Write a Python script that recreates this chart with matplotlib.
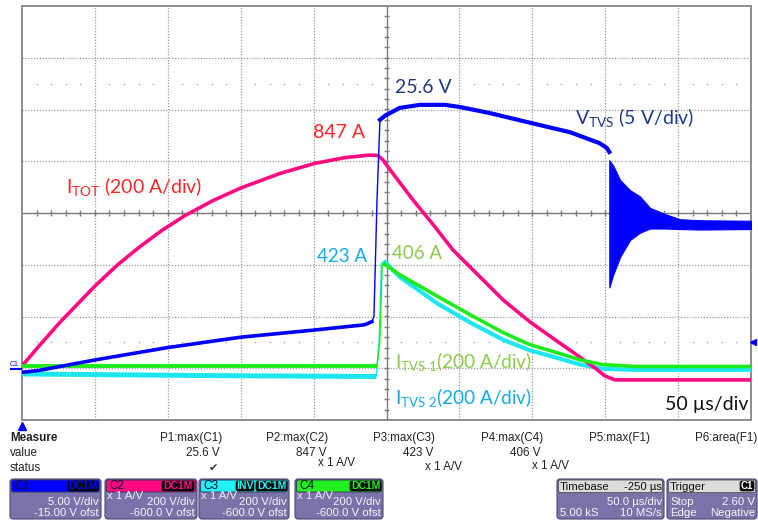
"""
Scope capture: TVS clamp test, V_TVS / I_TOT / I_TVS1 / I_TVS2 at 50 us/div.
Writes out.png (758 x 521).
"""

import matplotlib.pyplot as plt
from matplotlib.patches import FancyBboxPatch
import numpy as np

plt.rcParams["font.family"] = ["Lato", "DejaVu Sans"]
plt.rcParams["mathtext.fontset"] = "custom"
plt.rcParams["mathtext.rm"] = "Lato"
plt.rcParams["mathtext.it"] = "Lato:italic"
plt.rcParams["mathtext.bf"] = "Lato:bold"

# ---- channel settings (scale per div, offset) ----
C1_SCALE, C1_OFST = 5.0, -15.0      # V/div, V
I_SCALE, I_OFST = 200.0, -600.0     # A/div, A
US_PER_DIV = 50.0

# ---- C1: V_TVS (V) ----
vtvs_t = [0, 12, 50, 100, 150, 201, 235, 240, 241.4, 243.5, 245.5, 249, 259, 273,
          290, 300, 321, 352, 376, 396, 401, 402.8]
vtvs_v = [-0.4, -0.2, 0.8, 2.0, 3.0, 3.7, 4.2, 4.5, 5.0, 16.3, 24.0, 24.4, 25.15, 25.45,
          25.45, 25.25, 24.65, 23.6, 22.8, 21.75, 21.3, 20.9]
# ringing envelope after turn-off
ring_t = [402.8, 405.4, 410.2, 417.1, 423.9, 430.7, 441, 451.3, 465, 500]
ring_hi = [20.1, 19.6, 18.2, 17.2, 16.6, 15.5, 14.9, 14.4, 14.3, 14.25]
ring_lo = [7.8, 9.0, 10.75, 12.4, 13.1, 13.5, 13.5, 13.45, 13.4, 13.45]

# ---- C2: I_TOT (A) ----
itot_t = [0, 12.3, 26.1, 50.1, 65.2, 80.9, 96, 111.8, 131.0, 150.2, 177, 201, 221.5,
          238.7, 244.2, 247.6, 251, 268.2, 283.3, 295.6, 330, 348.4, 366.9, 382.7,
          393, 399.9, 406.7, 500]
itot_a = [9, 90, 178, 318, 398, 470, 533, 590, 648, 697, 753, 792, 814,
          824, 822, 805, 778, 650, 546, 457, 264, 179, 105, 43,
          1, -30, -45, -45]

# ---- C3: I_TVS2 (A, inverted) ----
itvs2_t = [0, 120, 243, 245, 246.5, 249, 259, 285, 307, 330, 348, 367, 383, 398.5, 420, 500]
itvs2_a = [-22, -28, -32, 110, 405, 410, 353, 250, 178, 110, 70, 40, 14, -2, -6, -6]

# ---- C4: I_TVS1 (A) ----
itvs1_t = [0, 243.5, 245.5, 247, 248.5, 259, 285, 307, 330, 348, 367, 383, 398.5, 420, 500]
itvs1_a = [10, 10, 110, 395, 403, 362, 278, 208, 138, 92, 60, 32, 14, 7, 7]

BLUE = "#0000FF"
PINK = "#FF0A80"
CYAN = "#1EE6F0"
GREEN = "#1EEB1E"


def tdiv(t):
    return np.asarray(t, float) / US_PER_DIV


def vdiv(v):
    return (np.asarray(v, float) + C1_OFST) / C1_SCALE


def idiv(a):
    return (np.asarray(a, float) + I_OFST) / I_SCALE


W, H = 758, 521
fig = plt.figure(figsize=(W / 100, H / 100), dpi=100)
fig.patch.set_facecolor("white")

# ---------------- graticule ----------------
ax = fig.add_axes([22 / W, 1 - 420 / H, 729 / W, 414 / H])
ax.set_xlim(0, 10)
ax.set_ylim(-4, 4)
ax.set_xticks([])
ax.set_yticks([])
for s in ax.spines.values():
    s.set_color("#8c8c8c")
    s.set_linewidth(1.4)

grid_kw = dict(color="#9a9a9a", lw=0.9, ls=(0, (1, 1.3)), zorder=1)
for gx in range(1, 10):
    if gx != 5:
        ax.axvline(gx, **grid_kw)
for gy in range(-3, 4):
    if gy != 0:
        ax.axhline(gy, **grid_kw)
ax.axvline(5, color="#7a7a7a", lw=1.0, zorder=1)
ax.axhline(0, color="#7a7a7a", lw=1.0, zorder=1)
minor_x = np.arange(0.2, 10, 0.2)
minor_y = np.arange(-3.8, 4, 0.2)
ax.vlines(minor_x, -0.05, 0.05, color="#7a7a7a", lw=1.0, zorder=1)
ax.hlines(minor_y, 4.965, 5.035, color="#7a7a7a", lw=1.0, zorder=1)
dots = [m for m in minor_x if abs(m - round(m)) > 0.05]
for ry in (2.5, -2.5):
    ax.plot(dots, [ry] * len(dots), ls="none", marker="s", ms=1.0, mew=0,
            color="#a8a8a8", zorder=1)

# ---------------- traces ----------------
tv, vv = tdiv(vtvs_t), vdiv(vtvs_v)
ti, vi = tdiv(itot_t), idiv(itot_a)
t2, v2 = tdiv(itvs2_t), idiv(itvs2_a)
t1, v1 = tdiv(itvs1_t), idiv(itvs1_a)

# C3 cyan
ax.plot(t2, v2, color=CYAN, lw=1.0, zorder=3)
ax.plot(t2[:3], v2[:3], color=CYAN, lw=3.6, zorder=3, solid_capstyle="butt")
ax.plot(t2[5:], v2[5:], color=CYAN, lw=3.0, zorder=3)
# C2 pink
ax.plot(ti, vi, color=PINK, lw=2.6, zorder=4, solid_joinstyle="round")
# C4 green
ax.plot(t1, v1, color=GREEN, lw=1.0, zorder=5)
ax.plot(t1[:2], v1[:2], color=GREEN, lw=2.8, zorder=5, solid_capstyle="butt")
ax.plot(t1[4:], v1[4:], color=GREEN, lw=2.6, zorder=5)
# C1 blue
ax.plot(tv, vv, color=BLUE, lw=1.0, zorder=6)
ax.plot(tv[:8], vv[:8], color=BLUE, lw=2.6, zorder=6)
ax.plot(tv[10:], vv[10:], color=BLUE, lw=3.0, zorder=6)
ax.fill_between(tdiv(ring_t), vdiv(ring_lo), vdiv(ring_hi), color=BLUE, lw=0.8, zorder=6)

# ---------------- annotations ----------------
RED_TXT = "#FF2626"
NAVY_TXT = "#1F3B82"
CYAN_TXT = "#14AAE8"
GREEN_TXT = "#8CCB4A"
ax.text(3.99, 1.55, "847 A", color=RED_TXT, fontsize=14, va="center", zorder=8)
ax.text(0.60, 0.52, r"I$_{\mathrm{TOT}}$ (200 A/div)", color=RED_TXT, fontsize=14, va="center", zorder=8)
ax.text(5.12, 2.43, "25.6 V", color=NAVY_TXT, fontsize=14, va="center", zorder=8)
ax.text(7.59, 1.84, r"V$_{\mathrm{TVS}}$ (5 V/div)", color=NAVY_TXT, fontsize=14, va="center", zorder=8)
ax.text(4.05, -0.85, "423 A", color=CYAN_TXT, fontsize=13.5, va="center", zorder=8)
ax.text(5.08, -0.79, "406 A", color=GREEN_TXT, fontsize=13.5, va="center", zorder=8)
ax.text(5.12, -2.86, r"I$_{\mathrm{TVS\ 1}}$(200 A/div)", color=GREEN_TXT, fontsize=13.7, va="center", zorder=8)
ax.text(5.12, -3.56, r"I$_{\mathrm{TVS\ 2}}$(200 A/div)", color=CYAN_TXT, fontsize=13.7, va="center", zorder=8)
ax.text(9.97, -3.71, "50 µs/div", color="#111111", fontsize=14, va="center", ha="right", zorder=8)

# ---------------- readout panel (pixel coords) ----------------
pn = fig.add_axes([0, 0, 1, 1], zorder=10)
pn.set_xlim(0, W)
pn.set_ylim(H, 0)
pn.axis("off")

# markers at graticule edge
pn.plot([22], [426], marker="^", ms=6, color=BLUE, clip_on=False)
pn.plot([753], [342], marker="<", ms=4, color=BLUE, clip_on=False)
pn.plot([11, 21], [369, 369], color=BLUE, lw=1.5)
pn.text(10, 364, "C1", fontsize=5, color=BLUE, family="Liberation Sans", va="center")

SANS = "Liberation Sans"
TXT = "#222222"
f8 = dict(fontsize=8.4, family=SANS, color=TXT, va="center")
pn.text(10, 438, "Measure", fontweight="bold", **f8)
pn.text(10, 453, "value", **f8)
pn.text(10, 468, "status", **f8)
meas_names = ["P1:max(C1)", "P2:max(C2)", "P3:max(C3)", "P4:max(C4)", "P5:max(F1)", "P6:area(F1)"]
meas_right = [222, 328, 435, 543, 650, 757]
meas_vals = ["25.6 V", "847 V", "423 V", "406 V", "", ""]
for name, xr, val in zip(meas_names, meas_right, meas_vals):
    pn.text(xr, 438, name, ha="right", **f8)
    pn.text(xr - 2, 453, val, ha="right", **f8)
pn.text(213, 468, "✔", fontsize=8, family="DejaVu Sans", color="#333333", ha="center", va="center")
for xl, yy in [(318, 463), (425, 467), (532, 466)]:
    pn.text(xl, yy, "x 1 A/V", ha="left", **f8)

BODY = "#7A73A9"
EDGE = "#4c4870"
WHITE_TXT = "#F4F4F4"


def rbox(x0, y0, w, h, fc, ec=EDGE, r=3, lw=0.8):
    pn.add_patch(FancyBboxPatch((x0, y0), w, h, boxstyle=f"round,pad=0,rounding_size={r}",
                                fc=fc, ec=ec, lw=lw))


def badge(x0, w, label, color):
    rbox(x0, 481, w, 10, "#0a0a0a", ec="#0a0a0a", r=2, lw=0.5)
    pn.text(x0 + w / 2, 486.3, label, fontsize=7.5, family=SANS, color=color,
            ha="center", va="center", fontweight="bold")


# channel descriptor boxes
chan_boxes = [
    dict(x0=10, x1=101, name="C1", color=BLUE, badges=[("DC1M", 68, 30)],
         probe="", vdiv="5.00 V/div", ofst="-15.00 V ofst"),
    dict(x0=105, x1=197, name="C2", color=PINK, badges=[("DC1M", 162, 32)],
         probe="x 1 A/V", vdiv="200 V/div", ofst="-600.0 V ofst"),
    dict(x0=199, x1=289, name="C3", color="#22F0F5", badges=[("INV", 236, 18), ("DC1M", 256, 31)],
         probe="x 1 A/V", vdiv="200 V/div", ofst="-600.0 V ofst"),
    dict(x0=295, x1=383, name="C4", color="#22EE22", badges=[("DC1M", 350, 31)],
         probe="x 1 A/V", vdiv="200 V/div", ofst="-600.0 V ofst"),
]
for cb in chan_boxes:
    x0, x1 = cb["x0"], cb["x1"]
    rbox(x0, 479, x1 - x0, 40, BODY)
    rbox(x0 + 1.5, 480, x1 - x0 - 3, 12, cb["color"], ec="#333355", r=2, lw=0.6)
    pn.text(x0 + 4, 486, cb["name"], fontsize=8.5, family=SANS, color="#101030", va="center")
    for lab, bx, bw in cb["badges"]:
        badge(bx, bw, lab, cb["color"])
    if cb["probe"]:
        pn.text(x0 + 2, 496, cb["probe"], fontsize=8.2, family=SANS, color="#f0f0f0", va="center")
    pn.text(x1 - 2, 502, cb["vdiv"], fontsize=8.2, family=SANS, color=WHITE_TXT, ha="right", va="center")
    pn.text(x1 - 2, 513, cb["ofst"], fontsize=8.2, family=SANS, color=WHITE_TXT, ha="right", va="center")

# timebase box
rbox(557, 479, 107, 40, BODY)
rbox(558.5, 480, 104, 12.5, "#DCDCDC", ec="#555555", r=2, lw=0.6)
pn.text(560, 486.5, "Timebase", fontsize=8.2, family=SANS, color="#111111", va="center")
pn.text(662, 486.5, "-250 µs", fontsize=8.2, family=SANS, color="#111111", ha="right", va="center")
pn.text(662, 502, "50.0 µs/div", fontsize=8.2, family=SANS, color=WHITE_TXT, ha="right", va="center")
pn.text(560, 513, "5.00 kS", fontsize=8.2, family=SANS, color=WHITE_TXT, va="center")
pn.text(662, 513, "10 MS/s", fontsize=8.2, family=SANS, color=WHITE_TXT, ha="right", va="center")

# trigger box
rbox(667, 479, 90, 40, BODY)
rbox(668.5, 480, 87, 12.5, "#DCDCDC", ec="#555555", r=2, lw=0.6)
pn.text(670, 486.5, "Trigger", fontsize=8.2, family=SANS, color="#111111", va="center")
rbox(740, 481, 14, 10, "#0a0a0a", ec="#0a0a0a", r=2, lw=0.5)
pn.text(747, 486.3, "C1", fontsize=7, family=SANS, color="white", ha="center", va="center", fontweight="bold")
pn.text(670, 502, "Stop", fontsize=8.2, family=SANS, color=WHITE_TXT, va="center")
pn.text(755, 502, "2.60 V", fontsize=8.2, family=SANS, color=WHITE_TXT, ha="right", va="center")
pn.text(670, 513, "Edge", fontsize=8.2, family=SANS, color=WHITE_TXT, va="center")
pn.text(755, 513, "Negative", fontsize=8.2, family=SANS, color=WHITE_TXT, ha="right", va="center")

fig.savefig("out.png", dpi=100, facecolor="white")
